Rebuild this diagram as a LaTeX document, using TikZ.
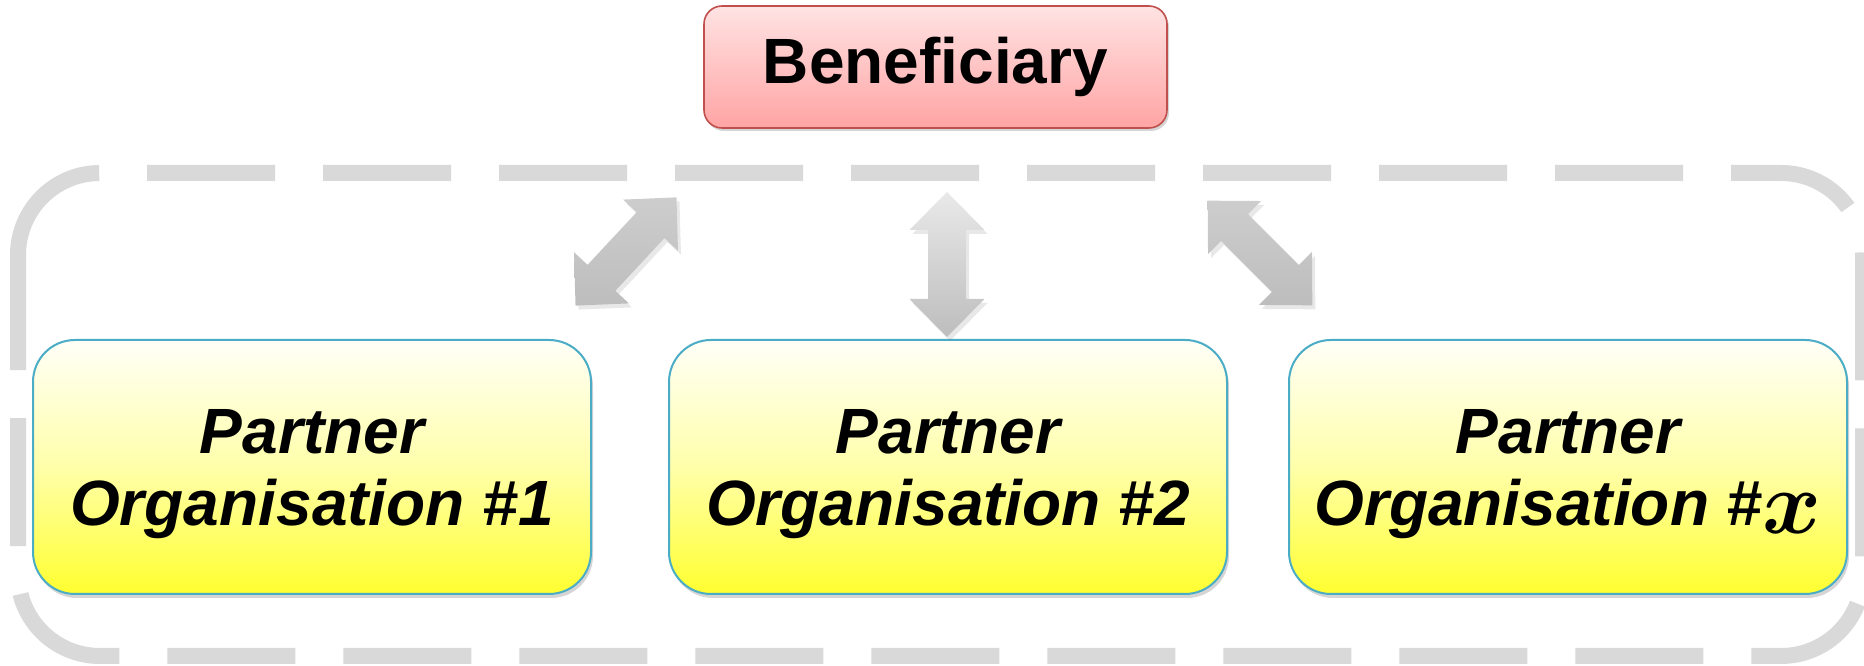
\documentclass[tikz,border=0pt]{standalone}
\usepackage{graphicx}
\usepackage{fontspec}
\setmainfont{Liberation Sans}
\usetikzlibrary{calc,shadows}
\definecolor{dashgray}{HTML}{D9D9D9}
\definecolor{pY0}{HTML}{FFFF30}
\definecolor{pY2}{HTML}{FFFFAA}
\definecolor{pY3}{HTML}{FFFFF8}
\definecolor{pborder}{HTML}{4BACC6}
\definecolor{bTop}{HTML}{FFE3E3}
\definecolor{bBot}{HTML}{FFA4A4}
\definecolor{bborder}{HTML}{C0504D}
\definecolor{aLight}{HTML}{E9E9E9}
\definecolor{aMid}{HTML}{CDCDCD}
\definecolor{aDark}{HTML}{BDBDBD}
\begin{document}
\begin{tikzpicture}[x=1pt,y=1pt,
  bdash/.style={draw=dashgray, line width=16pt, dash pattern=on 128pt off 48pt},
  partner/.style={draw=pborder, line width=2pt, rounded corners=42pt,
    minimum width=558pt, minimum height=254pt, inner sep=0pt,
    top color=pY3, bottom color=pY0, middle color=pY2,
    drop shadow={shadow xshift=2pt, shadow yshift=-4pt, opacity=0.3, fill=black!55}},
  benef/.style={draw=bborder, line width=1.6pt, rounded corners=18pt,
    minimum width=463pt, minimum height=122pt, inner sep=0pt,
    top color=bTop, bottom color=bBot,
    drop shadow={shadow xshift=2pt, shadow yshift=-3pt, opacity=0.3, fill=black!55},
    font=\bfseries\fontsize{64}{64}\selectfont},
  ptext/.style={font=\bfseries\itshape\fontsize{64}{72}\selectfont, align=center, inner sep=0pt},
  arrowshape/.style={draw=none,
    drop shadow={shadow xshift=3pt, shadow yshift=-4pt, opacity=0.15, fill=black!60}},
]
\useasboundingbox (0,0) rectangle (1864,666);

% dashed enclosure
\draw[bdash] (18,411) arc[start angle=180, end angle=90, radius=82pt]
  -- (1781,493) arc[start angle=90, end angle=0, radius=82pt]
  -- (1863,92) arc[start angle=0, end angle=-90, radius=82pt]
  -- (100,10) arc[start angle=270, end angle=180, radius=82pt]
  -- cycle;

% beneficiary
\node[benef] (ben) at (935.5,599) {Beneficiary};

% partner boxes
\node[partner] (p1) at (312,199) {};
\node[partner] (p2) at (948,199) {};
\node[partner] (p3) at (1568,199) {};

\node[ptext, yshift=-7pt] (t1) at (p1.center) {Partner\\Organisation \#1};
\node[ptext, yshift=-7pt] (t2) at (p2.center) {Partner\\Organisation \#2};
\node[ptext, yshift=-7pt] (t3) at (p3.center) {Partner\\Organisation \#\raisebox{-8pt}[0pt][0pt]{\scalebox{3.6}{\boldmath$x$}}};

% block arrows
\coordinate (a1) at (626,414.5);
\coordinate (a2) at (947,401.5);
\coordinate (a3) at (1260,413);

\path[arrowshape, top color=aMid, bottom color=aDark, shift={(a1)}, rotate=-43]
  (0,74) -- (37.5,36) -- (19,36) -- (19,-36) -- (37.5,-36) -- (0,-74)
  -- (-37.5,-36) -- (-19,-36) -- (-19,36) -- (-37.5,36) -- cycle;
\path[arrowshape, top color=aLight, bottom color=aDark, shift={(a2)}]
  (0,72.5) -- (37.5,34.5) -- (19,34.5) -- (19,-34.5) -- (37.5,-34.5) -- (0,-72.5)
  -- (-37.5,-34.5) -- (-19,-34.5) -- (-19,34.5) -- (-37.5,34.5) -- cycle;
\path[arrowshape, top color=aMid, bottom color=aDark, shift={(a3)}, rotate=45]
  (0,74) -- (37.5,36) -- (19,36) -- (19,-36) -- (37.5,-36) -- (0,-74)
  -- (-37.5,-36) -- (-19,-36) -- (-19,36) -- (-37.5,36) -- cycle;
\end{tikzpicture}
\end{document}
